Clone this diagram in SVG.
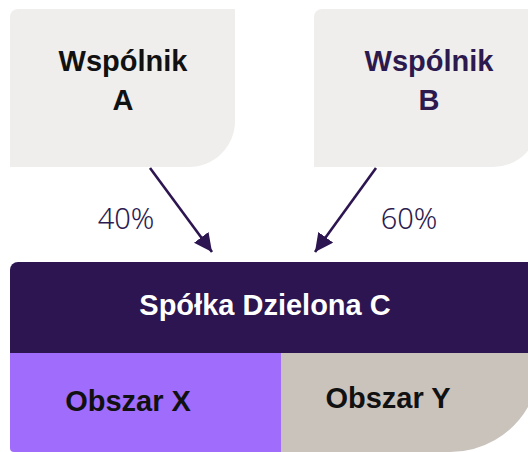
<svg xmlns="http://www.w3.org/2000/svg" width="528" height="452" viewBox="0 0 528 452">
<defs>
<style>
.box{fill:#efeeed}
.t{font-family:"Liberation Sans",Arial,sans-serif;font-weight:700;font-size:29px;text-anchor:middle}
.pct{font-family:"Noto Sans","Liberation Sans",sans-serif;font-weight:300;font-size:29px;fill:#2c1a4f;text-anchor:middle}
.conn{stroke:#2c1550;stroke-width:2.6;fill:none}
</style>
<marker id="ah" viewBox="0 0 10 10" refX="10" refY="5" markerWidth="7" markerHeight="7" markerUnits="strokeWidth" orient="auto">
<path d="M0,0 L10,5 L0,10 Z" fill="#2c1550"/>
</marker>
<clipPath id="pg"><rect x="0" y="0" width="528" height="452"/></clipPath>
</defs>
<rect width="528" height="452" fill="#ffffff"/>
<g id="wspolnik-a">
<path class="box" d="M18,9 H235 V121 A46,46 0 0 1 189,167 H10 V17 A8,8 0 0 1 18,9 Z"/>
<text class="t" x="123" y="71" fill="#111111">Wspólnik</text>
<text class="t" x="123" y="110" fill="#111111">A</text>
</g>
<g id="wspolnik-b" clip-path="url(#pg)">
<path class="box" d="M322,9 H539 V121 A46,46 0 0 1 493,167 H314 V17 A8,8 0 0 1 322,9 Z"/>
<text class="t" x="429" y="71" fill="#2c1a4f">Wspólnik</text>
<text class="t" x="429" y="110" fill="#2c1a4f">B</text>
</g>
<g id="connectors">
<line class="conn" x1="150" y1="168" x2="212" y2="252" marker-end="url(#ah)"/>
<line class="conn" x1="376" y1="168" x2="315" y2="252" marker-end="url(#ah)"/>
<text class="pct" x="126" y="229">40%</text>
<text class="pct" x="409" y="229">60%</text>
</g>
<g id="spolka-c">
<path d="M18,262 H528 V353 H10 V270 A8,8 0 0 1 18,262 Z" fill="#2c1550"/>
<text class="t" x="265" y="315" fill="#ffffff">Spółka Dzielona C</text>
</g>
<g id="obszar-x">
<path d="M10,353 H281 V452 H14 A4,4 0 0 1 10,448 Z" fill="#a06cfb"/>
<text class="t" x="128" y="411" fill="#111111">Obszar X</text>
</g>
<g id="obszar-y">
<path d="M281,353 H528 V407 A90,90 0 0 1 450,452 H281 Z" fill="#c9c3bc"/>
<text class="t" x="388" y="408" fill="#111111">Obszar Y</text>
</g>
</svg>
